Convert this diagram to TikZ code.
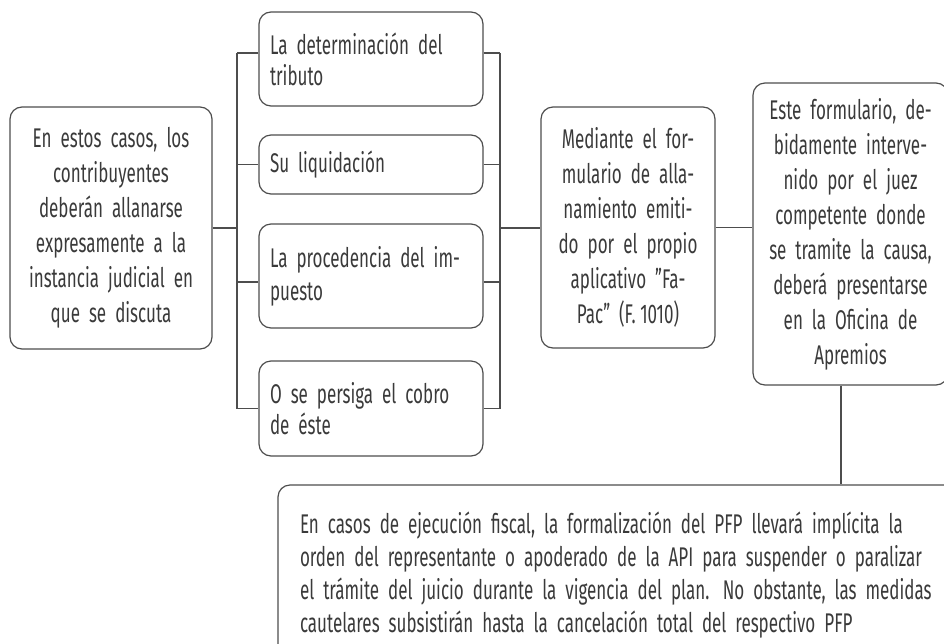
\documentclass[tikz,border=0pt]{standalone}
\usepackage{fontspec}
\setmainfont[FakeStretch=0.63]{Fira Sans}
\usepackage{xcolor}
\usepackage{tikz}
\usetikzlibrary{calc}
\definecolor{GrisTexto}{HTML}{3A3A3A}
\definecolor{GrisLinea}{HTML}{4D4D4D}

\begin{document}
\begin{tikzpicture}[x = 1pt, y = -1pt,
    caja/.style = {draw = GrisLinea, line width = 1.2pt, rounded corners = 12pt,
      text = GrisTexto, font = \fontsize{27}{#1}\selectfont,
      inner xsep = 11pt, inner ysep = 0pt},
    caja/.default = 35pt,
    enlace/.style = {draw = GrisLinea, line width = 1.2pt}]
  \useasboundingbox (0,0) rectangle (944,643);
  \clip (0,0) rectangle (944,643);

  \node[caja, align = center, text width = 180pt, minimum height = 242pt] 
    (casos) at (111,228) 
    {En estos casos, los\\contribuyentes\\deberán allanarse\\expresamente a la\\instancia judicial en\\que se discuta};

  \node[caja = 31pt, align = left, text width = 202pt, minimum height = 94pt] 
    (tributo) at (371,59) {La determinación del\\tributo};
  \node[caja = 31pt, align = left, text width = 202pt, minimum height = 59pt] 
    (liquida) at (371,164.5) {Su liquidación};
  \node[caja = 33pt, align = left, text width = 202pt, minimum height = 104pt] 
    (impuesto) at (371,276) {La procedencia del im-\\puesto};
  \node[caja = 31pt, align = left, text width = 202pt, minimum height = 95pt] 
    (cobro) at (371,408.5) {O se persiga el cobro\\de éste};

  \node[caja, align = center, text width = 152pt, minimum height = 241pt] 
    (fapac) at (628,227.5) 
    {Mediante el for-\\mulario de alla-\\namiento emiti-\\do por el propio\\aplicativo \symbol{34}Fa-\\Pac\symbol{34} (F.\,1010)};

  \node[caja, align = center, text width = 173pt, minimum height = 302pt] 
    (oficina) at (850.5,234) 
    {Este formulario, de-\\bidamente interve-\\nido por el juez\\competente donde\\se tramite la causa,\\deberá presentarse\\en la Oficina de\\Apremios};

  \node[caja = 33pt, align = left, inner xsep = 22pt, text width = 640pt, minimum height = 180pt] 
    (pfp) at (620,575) 
    {En casos de ejecución fiscal, la formalización del PFP llevará implícita la\\orden del representante o apoderado de la API para suspender o paralizar\\el trámite del juicio durante la vigencia del plan. No obstante, las medidas\\cautelares subsistirán hasta la cancelación total del respectivo PFP};

  \coordinate (izq) at (237,228);
  \coordinate (der) at (500,228);

  \draw[enlace] (casos.east) -- (izq);
  \draw[enlace] (izq |- 0,53) -- (izq |- 0,409);
  \draw[enlace] (izq |- 0,53) -- ([yshift = 6pt]tributo.west);
  \draw[enlace] (izq |- liquida.west) -- (liquida.west);
  \draw[enlace] (izq |- 0,282) -- ([yshift = -6pt]impuesto.west);
  \draw[enlace] (izq |- cobro.west) -- (cobro.west);

  \draw[enlace] (der |- 0,53) -- (der |- 0,409);
  \draw[enlace] ([yshift = 6pt]tributo.east) -- (der |- 0,53);
  \draw[enlace] (liquida.east) -- (der |- liquida.east);
  \draw[enlace] ([yshift = -6pt]impuesto.east) -- (der |- 0,282);
  \draw[enlace] (cobro.east) -- (der |- cobro.east);
  \draw[enlace] (der) -- (fapac.west |- der);

  \draw[enlace] (fapac.east) -- (oficina.west |- fapac.east);
  \draw[enlace] (841,0 |- oficina.south) -- (841,0 |- pfp.north);
\end{tikzpicture}
\end{document}
